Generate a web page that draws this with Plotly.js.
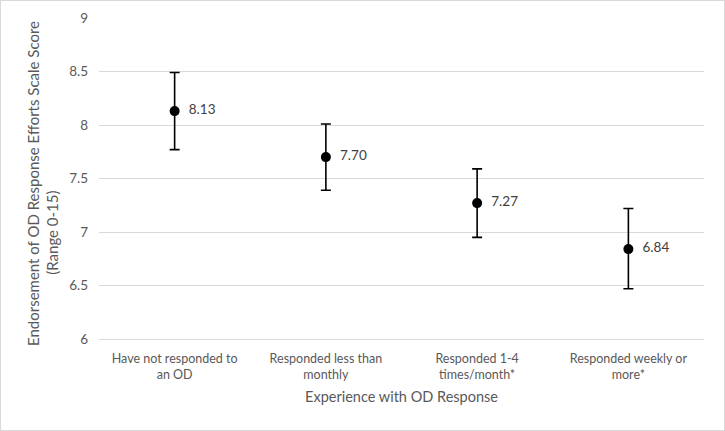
<!DOCTYPE html>
<html>
<head>
<meta charset="utf-8">
<script src="https://cdn.plot.ly/plotly-3.0.1.min.js"></script>
<style>
html,body{margin:0;padding:0;background:#fff;}
#frame{width:725px;height:431px;box-sizing:border-box;border:1px solid #d9d9d9;}
#chart{width:723px;height:429px;}
</style>
</head>
<body>
<div id="frame"><div id="chart"></div></div>
<script>
const categories = ["Have not responded to<br>an OD", "Responded less than<br>monthly", "Responded 1-4<br>times/month*", "Responded weekly or<br>more*"];
const means = [8.13, 7.70, 7.27, 6.84];
const errUpper = [0.36, 0.31, 0.32, 0.38];
const errLower = [0.36, 0.31, 0.32, 0.37];
const labels = ["  8.13", "  7.70", "  7.27", "  6.84"];
const yTitleLines = ["Endorsement of OD Response Efforts Scale Score", "(Range 0-15)"];
const xTitle = "Experience with OD Response";

const font = "Lato, Noto Sans, sans-serif";
const trace = {
  type: "scatter",
  mode: "markers+text",
  x: categories,
  y: means,
  text: labels,
  textposition: "middle right",
  textfont: {family: font, size: 13.5, color: "#404040"},
  marker: {color: "#000", size: 10},
  error_y: {type: "data", symmetric: false, array: errUpper, arrayminus: errLower, color: "#000", thickness: 1.6, width: 5},
  cliponaxis: false,
  hoverinfo: "none"
};
const titleFont = {family: font, size: 15, color: "#595959"};
const layout = {
  width: 723, height: 429,
  margin: {l: 98, r: 20, t: 17, b: 91},
  paper_bgcolor: "#fff", plot_bgcolor: "#fff",
  showlegend: false,
  font: {family: font, color: "#595959", size: 13},
  xaxis: {
    type: "category", range: [-0.5, 3.5],
    showgrid: false, showline: true, linecolor: "#d9d9d9", linewidth: 1,
    zeroline: false, ticks: "", ticklabelstandoff: 8,
    tickfont: {family: font, size: 12.5, color: "#595959"},
    title: {text: xTitle, font: {family: font, size: 14.5, color: "#595959"}, standoff: 10}
  },
  yaxis: {
    range: [6, 9], dtick: 0.5, tick0: 6,
    showgrid: true, gridcolor: "#d9d9d9", gridwidth: 1,
    zeroline: false, showline: false, ticks: "", ticklen: 0, ticklabelstandoff: 10,
    tickfont: {family: font, size: 13.5, color: "#595959"}
  },
  annotations: [
    {text: yTitleLines[0], textangle: -90, showarrow: false,
     xref: "paper", yref: "paper", x: -0.109, y: 0.483, xanchor: "center", yanchor: "middle", font: titleFont},
    {text: yTitleLines[1], textangle: -90, showarrow: false,
     xref: "paper", yref: "paper", x: -0.0777, y: 0.493, xanchor: "center", yanchor: "middle", yshift: -52, font: titleFont}
  ]
};
Plotly.newPlot("chart", [trace], layout, {displayModeBar: false, staticPlot: true});
</script>
</body>
</html>
